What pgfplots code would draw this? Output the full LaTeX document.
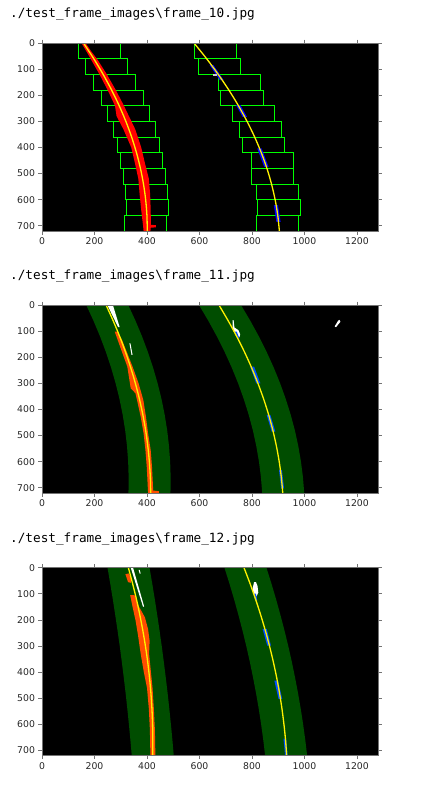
\documentclass[border=0pt]{standalone}
\usepackage{pgfplots}
\pgfplotsset{compat=1.18}
\usepackage{fontspec}
\setmainfont{DejaVu Sans}
\newfontfamily\monofont{DejaVu Sans Mono}

\definecolor{band}{RGB}{0,77,0}
\definecolor{lanered}{RGB}{255,0,0}
\definecolor{laneorange}{RGB}{255,77,0}
\definecolor{laneblue}{RGB}{0,0,255}
\definecolor{bandblue}{RGB}{0,77,255}
\definecolor{win}{RGB}{0,255,0}

\pgfplotsset{
  frame/.style={
    width=336pt, height=188pt, scale only axis, anchor=north west,
    xmin=0, xmax=1280, ymin=0, ymax=720, y dir=reverse,
    axis background/.style={fill=black},
    axis on top, clip=true,
    xtick={0,200,...,1200}, ytick={0,100,...,700},
    tick align=outside, major tick length=3.5pt,
    axis line style={black!55, line width=0.8pt},
    every tick/.style={black!55, line width=0.8pt},
    tick label style={font=\fontsize{9.3}{10}\selectfont, text=black!85},
    /pgf/number format/assume math mode=true,
    /pgf/number format/set thousands separator={},
  },
  fit/.style={yellow, line width=1.3pt, smooth, no markers},
  blob/.style={draw=none, no markers},
  box/.style={win, line width=1pt, no markers, sharp plot},
}

\begin{document}
\begin{tikzpicture}
\path[use as bounding box] (0,0) rectangle (443pt,-787pt);

\tikzset{ttl/.style={anchor=base west, inner sep=0, font=\monofont\fontsize{12.7}{14}\selectfont}}
\node[ttl] at (10pt,-17.5pt) {./test\_frame\_images\textbackslash frame\_10.jpg};
\node[ttl] at (10pt,-279.5pt) {./test\_frame\_images\textbackslash frame\_11.jpg};
\node[ttl] at (10pt,-542pt) {./test\_frame\_images\textbackslash frame\_12.jpg};

% ---- frame 10: sliding windows
\begin{axis}[frame, at={(42pt,-43pt)}]
  % left windows
  \addplot[box] coordinates {(140,0)(300,0)(300,60)(140,60)(140,0)};
  \addplot[box] coordinates {(165,60)(326,60)(326,120)(165,120)(165,60)};
  \addplot[box] coordinates {(197,120)(357,120)(357,180)(197,180)(197,120)};
  \addplot[box] coordinates {(226,180)(386,180)(386,240)(226,240)(226,180)};
  \addplot[box] coordinates {(250,240)(410,240)(410,300)(250,300)(250,240)};
  \addplot[box] coordinates {(272,300)(432,300)(432,360)(272,360)(272,300)};
  \addplot[box] coordinates {(287,360)(447,360)(447,420)(287,420)(287,360)};
  \addplot[box] coordinates {(298,420)(458,420)(458,480)(298,480)(298,420)};
  \addplot[box] coordinates {(310,480)(470,480)(470,540)(310,540)(310,480)};
  \addplot[box] coordinates {(317,540)(479,540)(479,600)(317,600)(317,540)};
  \addplot[box] coordinates {(322,600)(483,600)(483,660)(322,660)(322,600)};
  \addplot[box] coordinates {(314,660)(474,660)(474,720)(314,720)(314,660)};
  % right windows
  \addplot[box] coordinates {(580,0)(740,0)(740,60)(580,60)(580,0)};
  \addplot[box] coordinates {(596,60)(756,60)(756,120)(596,120)(596,60)};
  \addplot[box] coordinates {(672,120)(832,120)(832,180)(672,180)(672,120)};
  \addplot[box] coordinates {(681,180)(842,180)(842,240)(681,240)(681,180)};
  \addplot[box] coordinates {(725,240)(886,240)(886,300)(725,300)(725,240)};
  \addplot[box] coordinates {(752,300)(913,300)(913,360)(752,360)(752,300)};
  \addplot[box] coordinates {(763,360)(924,360)(924,420)(763,420)(763,360)};
  \addplot[box] coordinates {(797,420)(959,420)(959,480)(797,480)(797,420)};
  \addplot[box] coordinates {(797,480)(959,480)(959,540)(797,540)(797,480)};
  \addplot[box] coordinates {(816,540)(978,540)(978,600)(816,600)(816,540)};
  \addplot[box] coordinates {(822,600)(984,600)(984,660)(822,660)(822,600)};
  \addplot[box] coordinates {(816,660)(978,660)(978,720)(816,720)(816,660)};
  % left lane pixels
  \addplot[blob, fill=lanered] coordinates {
    (150,0)(168,30)(185,60)(219,120)(250,180)(278,240)(284,280)(310,330)
    (340,400)(354,460)(367,520)(372,580)(378,640)(385,700)(387,720)
    (413,720)(415,700)(414,640)(412,580)(407,520)(392,460)(378,400)
    (355,330)(331,280)(312,240)(281,180)(247,120)(209,60)(186,30)(166,0)
  };
  \addplot[blob, fill=lanered] coordinates {(405,695)(434,698)(434,706)(405,708)};
  % right lane pixels
  \addplot[blob, fill=laneblue] coordinates {(638,84)(653,84)(692,142)(677,142)};
  \addplot[blob, fill=laneblue] coordinates {(739,238)(756,238)(781,283)(764,283)};
  \addplot[blob, fill=laneblue] coordinates {(820,404)(837,404)(863,474)(846,474)};
  \addplot[blob, fill=laneblue] coordinates {(883,621)(899,621)(909,685)(893,685)};
  \addplot[blob, fill=white!80!black] coordinates {(652,120)(668,120)(668,126)(652,126)};
  % fits
  \addplot[fit] coordinates {(158,0)(197.1,60)(232.8,120)(265.1,180)(294,240)(319.4,300)
    (341.4,360)(359.9,420)(375,480)(386.6,540)(394.9,600)(399.7,660)(401,720)};
  \addplot[fit] coordinates {(579,0)(627,60)(671.2,120)(711.7,180)(748.3,240)(781.1,300)
    (810.1,360)(835.3,420)(856.8,480)(874.3,540)(888.1,600)(898.1,660)(904.3,720)};
\end{axis}

% ---- frame 11: search around previous fit
\begin{axis}[frame, at={(42pt,-305pt)}]
  \addplot[blob, fill=band] coordinates {
    (168.5,0)(196,60)(221,120)(243.4,180)(263.2,240)(280.5,300)(295.2,360)
    (307.3,420)(316.9,480)(323.8,540)(328.2,600)(330.1,660)(329.4,720)
    (489.4,720)(490.1,660)(488.2,600)(483.8,540)(476.9,480)(467.3,420)
    (455.2,360)(440.5,300)(423.2,240)(403.4,180)(381,120)(356,60)(328.5,0)
  };
  \addplot[blob, fill=band] coordinates {
    (598,0)(633.4,60)(666,120)(695.9,180)(723,240)(747.2,300)(768.6,360)
    (787.4,420)(803.3,480)(816.3,540)(826.6,600)(834.1,660)(838.9,720)
    (998.9,720)(994.1,660)(986.6,600)(976.3,540)(963.3,480)(947.4,420)
    (928.6,360)(907.2,300)(883,240)(855.9,180)(826,120)(793.4,60)(758,0)
  };
  \addplot[blob, fill=laneorange] coordinates {
    (277,102)(302,172)(325,236)(338,319)(356,338)(362,364)(376,428)(387,491)
    (394,555)(399,619)(404,718)(404,720)(424,720)(424,718)(419,619)(414,555)
    (404,491)(396,428)(386,364)(368,300)(345,236)(320,172)(305,134)(287,102)
  };
  \addplot[blob, fill=laneorange] coordinates {(420,710)(445,713)(445,720)(420,720)};
  \addplot[blob, fill=white] coordinates {(249,0)(270,0)(296,85)(290,85)};
  \addplot[blob, fill=white] coordinates {(333,147)(337,147)(345,191)(341,191)};
  \addplot[blob, fill=white] coordinates {(726,58)(730,58)(733,86)(748,96)(755,112)(752,124)(740,118)(733,104)(726,90)};
  \addplot[blob, fill=white] coordinates {(1115,82)(1120,85)(1137,64)(1133,57)(1128,60)};
  \addplot[blob, fill=bandblue] coordinates {(733,102)(742,102)(752,128)(744,128)};
  \addplot[blob, fill=bandblue] coordinates {(793,236)(808,236)(832,300)(816,300)};
  \addplot[blob, fill=bandblue] coordinates {(856,421)(870,421)(889,485)(875,485)};
  \addplot[blob, fill=bandblue] coordinates {(903,632)(914,632)(922,702)(911,702)};
  \addplot[fit] coordinates {(244,0)(271,60)(295.7,120)(318,180)(338,240)(355.7,300)
    (371.1,360)(384.1,420)(394.8,480)(403,540)(409,600)(412.7,660)(414,720)};
  \addplot[fit] coordinates {(674,0)(709.1,60)(741.6,120)(771.4,180)(798.4,240)(822.7,300)
    (844.3,360)(863.3,420)(879.5,480)(892.9,540)(903.7,600)(911.7,660)(917.2,720)};
\end{axis}

% ---- frame 12
\begin{axis}[frame, at={(42pt,-567.7pt)}]
  \addplot[blob, fill=band] coordinates {
    (249.6,0)(259.8,60)(269.6,120)(278.8,180)(287.7,240)(296.1,300)(304,360)
    (311.4,420)(318.5,480)(325,540)(331.1,600)(336.8,660)(342,720)
    (502,720)(496.8,660)(491.1,600)(485,540)(478.5,480)(471.4,420)
    (464,360)(456.1,300)(447.7,240)(438.8,180)(429.6,120)(419.8,60)(409.6,0)
  };
  \addplot[blob, fill=band] coordinates {
    (695,0)(713.8,60)(731.5,120)(748,180)(763.6,240)(778.2,300)(791.6,360)
    (803.9,420)(815.3,480)(825.6,540)(834.8,600)(843,660)(850,720)
    (1010,720)(1003,660)(994.8,600)(985.6,540)(975.3,480)(963.9,420)
    (951.6,360)(938.2,300)(923.6,240)(908,180)(891.5,120)(873.8,60)(855,0)
  };
  \addplot[blob, fill=laneorange] coordinates {
    (336,105)(345,150)(356,200)(366,260)(376,330)(388,400)(400,460)(407,540)
    (411,620)(413,720)(432,720)(430,620)(426,540)(421,460)(415,400)(408,330)
    (410,280)(404,235)(392,190)(370,150)(352,105)
  };
  \addplot[blob, fill=laneorange] coordinates {(318,25)(330,22)(340,40)(338,58)(328,55)};
  \addplot[blob, fill=white] coordinates {(338,0)(347,0)(389,148)(385,150)};
  \addplot[blob, fill=white] coordinates {(368,8)(372,8)(376,22)(372,23)};
  \addplot[blob, fill=white] coordinates {(808,55)(815,55)(821,70)(824,95)(818,108)(812,115)(806,100)(802,80)};
  \addplot[blob, fill=bandblue] coordinates {(807,99)(815,99)(820,125)(812,125)};
  \addplot[blob, fill=bandblue] coordinates {(840,234)(856,234)(872,298)(858,298)};
  \addplot[blob, fill=bandblue] coordinates {(885,432)(899,432)(915,502)(901,502)};
  \addplot[blob, fill=bandblue] coordinates {(920,655)(930,655)(936,719)(926,719)};
  \addplot[fit] coordinates {(329,0)(345,60)(359.6,120)(372.5,180)(384,240)(394,300)
    (402.5,360)(409.4,420)(414.9,480)(418.8,540)(421.3,600)(422.2,660)(421.6,720)};
  \addplot[fit] coordinates {(769.5,0)(792.3,60)(813.4,120)(832.8,180)(850.6,240)(866.7,300)
    (881.1,360)(893.8,420)(904.8,480)(914.1,540)(921.7,600)(927.8,660)(932,720)};
\end{axis}
\end{tikzpicture}
\end{document}
